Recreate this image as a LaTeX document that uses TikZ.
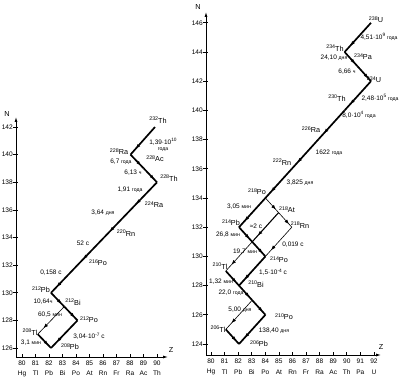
\documentclass[tikz,border=0pt]{standalone}
\usepackage{fontspec}
\setmainfont{Liberation Sans}
\usetikzlibrary{arrows.meta,decorations.markings}
\newcommand{\nuc}[2]{\raisebox{0.6ex}{\fontsize{5.3}{5.5}\selectfont #1}#2}
\newcommand{\ut}[1]{{\fontsize{5.2}{5.5}\selectfont #1}}
\newcommand{\ex}[1]{\raisebox{0.7ex}{\fontsize{4.8}{5}\selectfont #1}}
\tikzset{
 main/.style={line width=1.7pt},
 weak/.style={line width=0.6pt},
 med/.style={line width=1.1pt},
 dk/.style={postaction={decorate},decoration={markings,mark=at position #1 with {\arrow{Latex[length=4.5pt,width=3.6pt]}}}},
 dk/.default=0.78,
 axis/.style={line width=0.8pt},
 iso/.style={font=\fontsize{7.3}{8}\selectfont,inner sep=0pt},
 lab/.style={font=\fontsize{6.5}{7}\selectfont,inner sep=0pt},
 num/.style={font=\fontsize{6.6}{7}\selectfont,inner sep=0pt},
}
\begin{document}
\begin{tikzpicture}[x=1bp,y=-1bp]
\useasboundingbox (0,0) rectangle (403,381);
% ---------- left panel axes ----------
\coordinate (LO) at (16,357);
\coordinate (LN) at (16,117);
\coordinate (LZ) at (168,357);
\draw[axis,-{Latex[length=5pt,width=3pt]}] (LO) -- (LN);
\draw[axis,-{Latex[length=5pt,width=3pt]}] (LO) -- (LZ);
\node[iso] (LNl) at (7,114) {N};
\node[iso] (LZl) at (171,350) {Z};
\foreach \n in {126,128,...,142}{
  \pgfmathsetmacro\yy{348-(\n-126)*13.81}
  \draw[axis] (13,\yy) -- (18,\yy);
  \node[num,anchor=east] (lN\n) at (13,\yy) {\n};
}
\foreach \z/\el [count=\i from 0] in {80/Hg,81/Tl,82/Pb,83/Bi,84/Po,85/At,86/Rn,87/Fr,88/Ra,89/Ac,90/Th}{
  \pgfmathsetmacro\xx{22+\i*13.5}
  \draw[axis] (\xx,357) -- (\xx,354);
  \node[num] (lZ\z) at (\xx,363.5) {\z};
  \node[num] (lE\z) at (\xx,373.5) {\el};
}
% ---------- left panel nuclides ----------
\coordinate (Th232) at (155,127);
\coordinate (Ra228) at (130.5,154.6);
\coordinate (Ac228) at (143.75,168.4);
\coordinate (Th228) at (157,182.3);
\coordinate (Ra224) at (130.5,209.9);
\coordinate (Rn220) at (104,237.5);
\coordinate (Po216) at (77.5,265.1);
\coordinate (Pb212) at (51,292.8);
\coordinate (Bi212) at (64.25,306.6);
\coordinate (Po212) at (77.5,320.4);
\coordinate (Tl208) at (37.75,334.2);
\coordinate (Pb208) at (51,348);
\draw[main,dk] (Th232) -- (Ra228);
\draw[main,dk] (Ra228) -- (Ac228);
\draw[main,dk] (Ac228) -- (Th228);
\draw[main,dk] (Th228) -- (Ra224);
\draw[main,dk] (Ra224) -- (Rn220);
\draw[main,dk] (Rn220) -- (Po216);
\draw[main,dk] (Po216) -- (Pb212);
\draw[main,dk] (Pb212) -- (Bi212);
\draw[main,dk] (Bi212) -- (Po212);
\draw[main,dk] (Po212) -- (Pb208);
\draw[weak,dk] (Bi212) -- (Tl208);
\draw[main,dk] (Tl208) -- (Pb208);
\node[iso] (lTh232) at (158,120) {\nuc{232}{Th}};
\node[lab,align=center] (hTh232) at (163,145) {1,39·10\ex{10}\\[-1pt]\ut{года}};
\node[iso] (lRa228) at (119,152) {\nuc{228}{Ra}};
\node[lab] (hRa228) at (121,162) {6,7 \ut{года}};
\node[iso] (lAc228) at (155,159) {\nuc{228}{Ac}};
\node[lab] (hAc228) at (133,173) {6,13 \ut{ч}};
\node[iso] (lTh228) at (169,178) {\nuc{228}{Th}};
\node[lab] (hTh228) at (130,190) {1,91 \ut{года}};
\node[iso] (lRa224) at (154,205) {\nuc{224}{Ra}};
\node[lab] (hRa224) at (103,213) {3,64 \ut{дня}};
\node[iso] (lRn220) at (126,233) {\nuc{220}{Rn}};
\node[lab] (hRn220) at (83,243) {52 c};
\node[iso] (lPo216) at (98,263) {\nuc{216}{Po}};
\node[lab] (hPo216) at (51,273) {0,158 c};
\node[iso] (lPb212) at (41,290) {\nuc{212}{Pb}};
\node[lab] (hPb212) at (43,302) {10,64\ut{ч}};
\node[iso] (lBi212) at (73,302) {\nuc{212}{Bi}};
\node[lab] (hBi212) at (50,315) {60,5 \ut{мин}};
\node[iso] (lPo212) at (89,320) {\nuc{212}{Po}};
\node[iso] (lTl208) at (30,332) {\nuc{208}{Tl}};
\node[lab] (hPo212) at (89,336) {3,04·10\ex{-7} c};
\node[lab] (hTl208) at (31,343) {3,1 \ut{мин}};
\node[iso] (lPb208) at (70,347) {\nuc{208}{Pb}};
% ---------- right panel axes ----------
\coordinate (RO) at (206,355);
\coordinate (RN) at (206,12);
\coordinate (RZ) at (381,355);
\draw[axis,-{Latex[length=5pt,width=3pt]}] (RO) -- (RN);
\draw[axis,-{Latex[length=5pt,width=3pt]}] (RO) -- (RZ);
\node[iso] (RNl) at (198,7) {N};
\node[iso] (RZl) at (381,347) {Z};
\foreach \n in {124,126,...,146}{
  \pgfmathsetmacro\yy{344-(\n-124)*14.6}
  \draw[axis] (203,\yy) -- (208,\yy);
  \node[num,anchor=east] (rN\n) at (203,\yy) {\n};
}
\foreach \z/\el [count=\i from 0] in {80/Hg,81/Tl,82/Pb,83/Bi,84/Po,85/At,86/Rn,87/Fr,88/Ra,89/Ac,90/Th,91/Pa,92/U}{
  \pgfmathsetmacro\xx{211+\i*13.58}
  \draw[axis] (\xx,355) -- (\xx,352);
  \node[num] (rZ\z) at (\xx,361) {\z};
  \node[num] (rE\z) at (\xx,372) {\el};
}
% ---------- right panel nuclides ----------
\coordinate (U238) at (371,22.8);
\coordinate (Th234) at (344.6,52);
\coordinate (Pa234) at (357.8,66.6);
\coordinate (U234) at (371,81.2);
\coordinate (Th230) at (344.6,110.4);
\coordinate (Ra226) at (318.2,139.6);
\coordinate (Rn222) at (291.8,168.8);
\coordinate (Po218) at (265.4,198);
\coordinate (At218) at (278.6,212.6);
\coordinate (Rn218) at (291.8,227.2);
\coordinate (Pb214) at (239,227.2);
\coordinate (Bi214) at (252.2,241.8);
\coordinate (Po214) at (265.4,256.4);
\coordinate (Tl210) at (225.8,271);
\coordinate (Pb210) at (239,285.6);
\coordinate (Bi210) at (252.2,300.2);
\coordinate (Po210) at (265.4,314.8);
\coordinate (Tl206) at (225.8,329.4);
\coordinate (Pb206) at (239,344);
\draw[main,dk] (U238) -- (Th234);
\draw[main,dk] (Th234) -- (Pa234);
\draw[main,dk] (Pa234) -- (U234);
\draw[main,dk] (U234) -- (Th230);
\draw[main,dk] (Th230) -- (Ra226);
\draw[main,dk] (Ra226) -- (Rn222);
\draw[main,dk] (Rn222) -- (Po218);
\draw[main,dk] (Po218) -- (Pb214);
\draw[main,dk] (Pb214) -- (Bi214);
\draw[main,dk] (Bi214) -- (Po214);
\draw[main,dk] (Po214) -- (Pb210);
\draw[main,dk] (Pb210) -- (Bi210);
\draw[main,dk] (Bi210) -- (Po210);
\draw[main,dk] (Po210) -- (Pb206);
\draw[weak,dk] (Po218) -- (At218);
\draw[weak,dk] (At218) -- (Rn218);
\draw[weak,dk] (Rn218) -- (Po214);
\draw[med,dk] (At218) -- (Bi214);
\draw[weak,dk] (Bi214) -- (Tl210);
\draw[main,dk] (Tl210) -- (Pb210);
\draw[weak,dk] (Bi210) -- (Tl206);
\draw[main,dk] (Tl206) -- (Pb206);
\node[iso] (lU238) at (376,20) {\nuc{238}{U}};
\node[lab] (hU238) at (379,37) {4,51·10\ex{9} \ut{года}};
\node[iso] (lTh234) at (335,48) {\nuc{234}{Th}};
\node[lab] (hTh234) at (334,58) {24,10 \ut{дня}};
\node[iso] (lPa234) at (363,57) {\nuc{234}{Pa}};
\node[lab] (hPa234) at (347,72) {6,66 \ut{ч}};
\node[iso] (lU234) at (374,80) {\nuc{234}{U}};
\node[iso] (lTh230) at (337,98) {\nuc{230}{Th}};
\node[lab] (hU234) at (380,98) {2,48·10\ex{5} \ut{года}};
\node[lab] (hTh230) at (359,115) {8,0·10\ex{4} \ut{года}};
\node[iso] (lRa226) at (311,130) {\nuc{226}{Ra}};
\node[lab] (hRa226) at (329,153) {1622 \ut{года}};
\node[iso] (lRn222) at (282,162) {\nuc{222}{Rn}};
\node[lab] (hRn222) at (300,183) {3,825 \ut{дня}};
\node[iso] (lPo218) at (257,192) {\nuc{218}{Po}};
\node[lab] (hPo218) at (239,207) {3,05 \ut{мин}};
\node[iso] (lAt218) at (287,210) {\nuc{218}{At}};
\node[iso] (lPb214) at (231,223) {\nuc{214}{Pb}};
\node[lab] (hAt218) at (256,226) {≈2 c};
\node[iso] (lRn218) at (300,225) {\nuc{218}{Rn}};
\node[lab] (hPb214) at (228,235) {26,8 \ut{мин}};
\node[lab] (hRn218) at (293,245) {0,019 c};
\node[lab] (hBi214) at (245,252) {19,7 \ut{мин}};
\node[iso] (lPo214) at (279,260) {\nuc{214}{Po}};
\node[iso] (lTl210) at (220,266) {\nuc{210}{Tl}};
\node[lab] (hPo214) at (273,272) {1,5·10\ex{-4} c};
\node[lab] (hTl210) at (221,282) {1,32 \ut{мин}};
\node[iso] (lBi210) at (256,284) {\nuc{210}{Bi}};
\node[lab] (hPb210) at (231,293) {22,0 \ut{года}};
\node[lab] (hBi210) at (240,310) {5,00 \ut{дня}};
\node[iso] (lPo210) at (284,317) {\nuc{210}{Po}};
\node[iso] (lTl206) at (218,329) {\nuc{206}{Tl}};
\node[lab] (hPo210) at (274,331) {138,40 \ut{дня}};
\node[iso] (lPb206) at (259,344) {\nuc{206}{Pb}};
\end{tikzpicture}
\end{document}
